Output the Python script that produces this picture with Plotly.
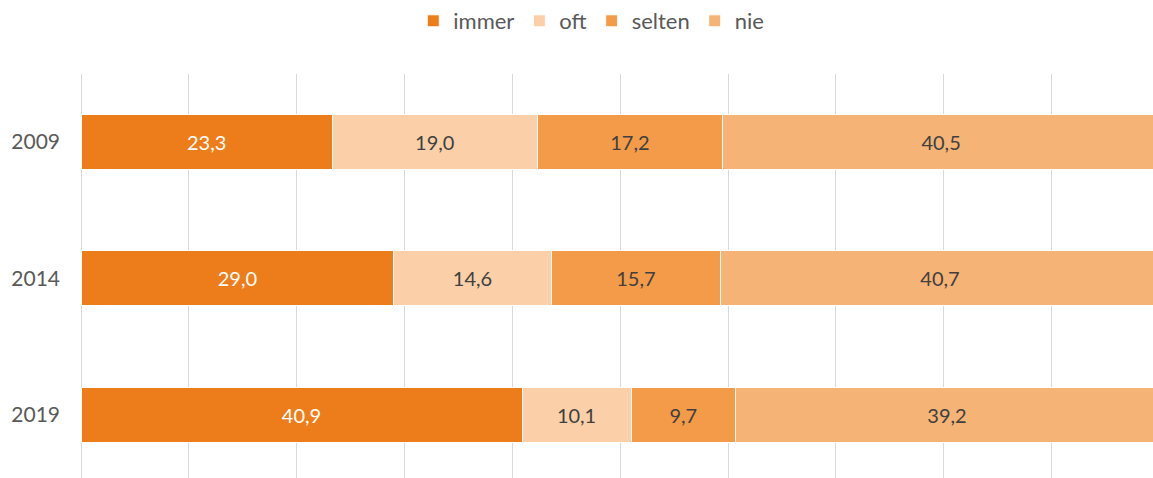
import plotly.graph_objects as go

years = ["2009", "2014", "2019"]
immer = [23.3, 29.0, 40.9]
oft = [19.0, 14.6, 10.1]
selten = [17.2, 15.7, 9.7]
nie = [40.5, 40.7, 39.2]

series = [
    ("immer", immer, "#ED7D1A", "#FFFFFF"),
    ("oft", oft, "#FBD0A8", "#404040"),
    ("selten", selten, "#F49B4A", "#404040"),
    ("nie", nie, "#F6B376", "#404040"),
]

FONT = "Lato"

fig = go.Figure()
for name, vals, color, tcolor in series:
    fig.add_trace(go.Bar(
        y=years, x=vals, name=name, orientation="h",
        marker=dict(color=color, line=dict(color="#FFFFFF", width=1)),
        texttemplate="%{x:.1f}", textposition="inside", insidetextanchor="middle",
        textfont=dict(family=FONT, size=20, color=tcolor),
        width=0.404,
    ))

fig.update_layout(
    barmode="stack",
    width=1153, height=478,
    margin=dict(l=81, r=0, t=74, b=0, autoexpand=False),
    paper_bgcolor="white", plot_bgcolor="white",
    separators=",.",
    font=dict(family=FONT, size=21, color="#595959"),
    legend=dict(orientation="h", x=0.476, xanchor="center", y=1.0, yanchor="top",
                yref="container", font=dict(family=FONT, size=22, color="#595959"),
                traceorder="normal", itemwidth=30),
    xaxis=dict(range=[0, 99.4], dtick=10, showgrid=True, gridcolor="#D9D9D9", gridwidth=1.3,
               showticklabels=False, zeroline=True, zerolinecolor="#D9D9D9", zerolinewidth=1.3,
               showline=False, automargin=False),
    yaxis=dict(type="category", categoryorder="array", categoryarray=years,
               range=[2.465, -0.5], showgrid=False, showline=False, automargin=False,
               ticklabelstandoff=20, tickfont=dict(family=FONT, size=21, color="#595959")),
)

fig.write_html(
    "out.html",
    config={"displayModeBar": False},
    post_script="document.body.style.margin='0';document.body.style.overflow='hidden';",
)
